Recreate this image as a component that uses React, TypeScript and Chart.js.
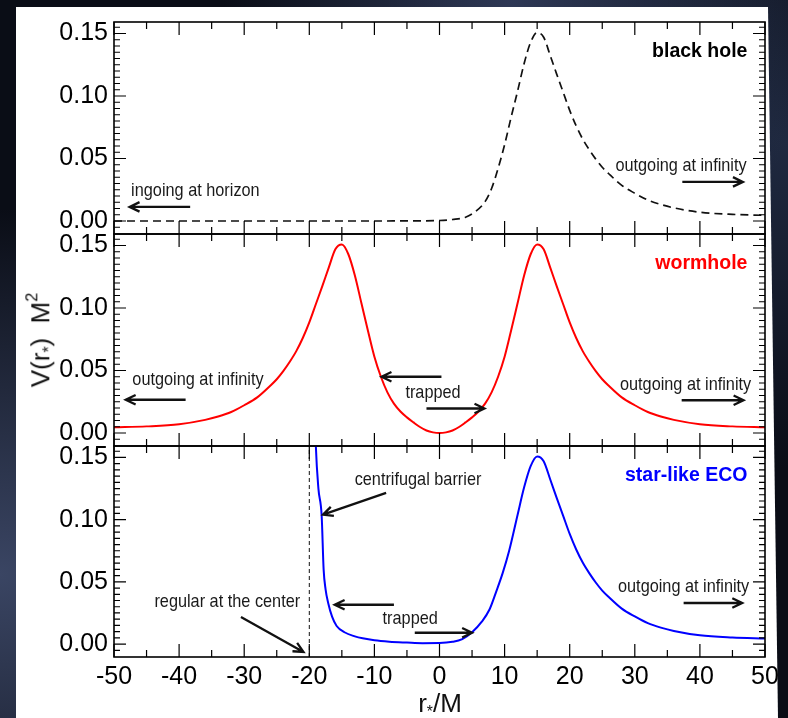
import React, { useEffect, useRef } from "react";
import { Chart, registerables } from "chart.js";
Chart.register(...registerables);

// ---------- data ----------
const X_TICKS = [-50, -40, -30, -20, -10, 0, 10, 20, 30, 40, 50];
const X_MINOR = [-45, -35, -25, -15, -5, 5, 15, 25, 35, 45];
const Y_TICKS = [0, 0.05, 0.1, 0.15];
const Y_MIN = -0.0104;
const Y_MAX = 0.1592;

const BH_X = [-50, -40, -30, -20, -10, -5, 0, 2, 4, 5.5, 7, 8, 9, 10, 11, 12, 13, 14, 15, 16, 17, 18, 19, 20, 21, 22, 23, 24, 25, 26, 28, 30, 32, 34, 36, 40, 45, 50];
const BH_V = [0, 0, 0, 0, 0, 0.0001, 0.0004, 0.0012, 0.003, 0.0075, 0.0155, 0.026, 0.042, 0.061, 0.083, 0.104, 0.126, 0.143, 0.1508, 0.147, 0.1325, 0.1175, 0.103, 0.0885, 0.076, 0.0655, 0.057, 0.0495, 0.043, 0.0378, 0.0285, 0.0222, 0.0168, 0.0132, 0.0105, 0.007, 0.0053, 0.0045];

const WH_X = [-50, -45, -40, -36, -34, -32, -30, -28, -26, -25, -24, -23, -22, -21, -20, -19, -18, -17, -16, -15, -14, -13, -12, -11, -10, -9, -8, -7, -6, -5, -4, -3, -2, -1, 0, 1, 2, 3, 4, 5, 6, 7, 8, 9, 10, 11, 12, 13, 14, 15, 16, 17, 18, 19, 20, 21, 22, 23, 24, 25, 26, 28, 30, 32, 34, 36, 40, 45, 50];
const WH_V = [0.0045, 0.0053, 0.007, 0.0105, 0.0132, 0.0168, 0.0222, 0.0285, 0.0378, 0.043, 0.0495, 0.057, 0.0655, 0.076, 0.0885, 0.103, 0.1175, 0.1325, 0.147, 0.1508, 0.143, 0.126, 0.104, 0.082, 0.061, 0.045, 0.0325, 0.0235, 0.0172, 0.0125, 0.0085, 0.0048, 0.002, 0.0005, 0, 0.0005, 0.002, 0.0048, 0.0085, 0.0125, 0.0172, 0.0235, 0.0325, 0.045, 0.061, 0.082, 0.104, 0.126, 0.143, 0.1508, 0.147, 0.1325, 0.1175, 0.103, 0.0885, 0.076, 0.0655, 0.057, 0.0495, 0.043, 0.0378, 0.0285, 0.0222, 0.0168, 0.0132, 0.0105, 0.007, 0.0053, 0.0045];

const ECO_X = [-19.4, -19.0, -18.6, -18.1, -17.8, -17.5, -17.1, -16.5, -15.8, -14.6, -13, -11.8, -10, -7.7, -5, -2.6, 0, 2, 3.5, 5, 6.5, 7.7, 8.7, 9.7, 10.7, 12, 13, 14, 15, 16, 17, 18, 19, 20, 21, 22, 23, 24, 25, 26, 28, 30, 32, 34, 36, 40, 45, 50];
const ECO_V = [0.24, 0.16, 0.125, 0.103, 0.06, 0.044, 0.033, 0.022, 0.0145, 0.0095, 0.0062, 0.0046, 0.003, 0.0019, 0.0012, 0.0007, 0.0008, 0.0018, 0.004, 0.0095, 0.018, 0.028, 0.042, 0.057, 0.075, 0.104, 0.126, 0.143, 0.1508, 0.147, 0.1325, 0.1175, 0.103, 0.0885, 0.076, 0.0655, 0.057, 0.0495, 0.043, 0.0378, 0.0285, 0.0222, 0.0168, 0.0132, 0.0105, 0.007, 0.0053, 0.0045];

const CENTER_X = [-20, -20];
const CENTER_V = [Y_MIN, Y_MAX];

// annotations (data coordinates)
const PANEL_TITLES = ["black hole", "wormhole", "star-like ECO"];
const TITLE_COLORS = ["#000000", "#ff0000", "#0000ff"];
const NOTES = [
  { panel: 0, text: "ingoing at horizon", x: -37.5, y: 0.024 },
  { panel: 0, text: "outgoing at infinity", x: 37.1, y: 0.0442 },
  { panel: 1, text: "outgoing at infinity", x: -37.1, y: 0.0425 },
  { panel: 1, text: "trapped", x: -1.0, y: 0.0317 },
  { panel: 1, text: "outgoing at infinity", x: 37.8, y: 0.0385 },
  { panel: 2, text: "centrifugal barrier", x: -3.3, y: 0.132 },
  { panel: 2, text: "regular at the center", x: -32.6, y: 0.0335 },
  { panel: 2, text: "trapped", x: -4.5, y: 0.0203 },
  { panel: 2, text: "outgoing at infinity", x: 37.5, y: 0.0457 },
];
const ARROWS = [
  { panel: 0, x1: -38.3, y1: 0.0113, x2: -47.6, y2: 0.0113 },
  { panel: 0, x1: 37.3, y1: 0.0313, x2: 46.6, y2: 0.0313 },
  { panel: 1, x1: -39.0, y1: 0.0266, x2: -48.2, y2: 0.0266 },
  { panel: 1, x1: 0.3, y1: 0.045, x2: -8.9, y2: 0.045 },
  { panel: 1, x1: -2.0, y1: 0.0196, x2: 6.9, y2: 0.0196 },
  { panel: 1, x1: 37.2, y1: 0.0262, x2: 46.7, y2: 0.0262 },
  { panel: 2, x1: -8.2, y1: 0.1215, x2: -17.9, y2: 0.104 },
  { panel: 2, x1: -30.5, y1: 0.0218, x2: -20.9, y2: -0.0063 },
  { panel: 2, x1: -7.0, y1: 0.0316, x2: -16.1, y2: 0.0316 },
  { panel: 2, x1: -3.8, y1: 0.0091, x2: 5.0, y2: 0.0091 },
  { panel: 2, x1: 37.5, y1: 0.033, x2: 46.5, y2: 0.033 },
];

const toPts = (xs: number[], ys: number[]) => xs.map((x, i) => ({ x, y: ys[i] }));

const FONT = '"Liberation Sans", Arial, Helvetica, sans-serif';

// layout of the three panels (canvas top, canvas height, padding bottom)
const PAD = 30;
const PANELS = [
  { top: 22 - PAD, height: 212 + 2 * PAD, padBottom: PAD, last: false },
  { top: 234 - PAD, height: 212 + 2 * PAD, padBottom: PAD, last: false },
  { top: 446 - PAD, height: 718 - 446 + PAD, padBottom: 0, last: true },
];

function drawArrow(ctx: CanvasRenderingContext2D, x1: number, y1: number, x2: number, y2: number) {
  const ang = Math.atan2(y2 - y1, x2 - x1);
  const L = 11;
  const a = 0.45;
  ctx.beginPath();
  ctx.moveTo(x1, y1);
  ctx.lineTo(x2, y2);
  ctx.moveTo(x2 - L * Math.cos(ang - a), y2 - L * Math.sin(ang - a));
  ctx.lineTo(x2, y2);
  ctx.lineTo(x2 - L * Math.cos(ang + a), y2 - L * Math.sin(ang + a));
  ctx.stroke();
}

function makeChart(canvas: HTMLCanvasElement, idx: number) {
  const cfg = PANELS[idx];
  const datasets: any[] = [];
  if (idx === 0) {
    datasets.push({ data: toPts(BH_X, BH_V), borderColor: "#111", borderWidth: 1.7, borderDash: [8, 5], pointRadius: 0, cubicInterpolationMode: "monotone", fill: false });
  } else if (idx === 1) {
    datasets.push({ data: toPts(WH_X, WH_V), borderColor: "#ff0000", borderWidth: 2, pointRadius: 0, cubicInterpolationMode: "monotone", fill: false });
  } else {
    datasets.push({ data: toPts(CENTER_X, CENTER_V), borderColor: "#111", borderWidth: 1, borderDash: [4, 3], pointRadius: 0, tension: 0, fill: false });
    datasets.push({ data: toPts(ECO_X, ECO_V), borderColor: "#0000ff", borderWidth: 2, pointRadius: 0, cubicInterpolationMode: "monotone", fill: false });
  }

  const deco = {
    id: "deco" + idx,
    afterDatasetsDraw(chart: any) {
      const { ctx, chartArea: ca, scales } = chart;
      const xs = scales.x;
      const ys = scales.y;
      ctx.save();
      ctx.strokeStyle = "#000";
      ctx.lineWidth = 1.2;
      // x ticks (top & bottom, inward)
      const xt = (v: number, len: number) => {
        const px = xs.getPixelForValue(v);
        ctx.beginPath();
        ctx.moveTo(px, ca.bottom);
        ctx.lineTo(px, ca.bottom - len);
        ctx.moveTo(px, ca.top);
        ctx.lineTo(px, ca.top + len);
        ctx.stroke();
      };
      X_TICKS.forEach((v) => xt(v, 13));
      X_MINOR.forEach((v) => xt(v, 7));
      // y ticks (left & right, inward)
      const yt = (v: number, len: number) => {
        const py = ys.getPixelForValue(v);
        ctx.beginPath();
        ctx.moveTo(ca.left, py);
        ctx.lineTo(ca.left + len, py);
        ctx.moveTo(ca.right, py);
        ctx.lineTo(ca.right - len, py);
        ctx.stroke();
      };
      for (let k = -1; k <= 31; k++) {
        const v = k * 0.005;
        if (v < Y_MIN || v > Y_MAX) continue;
        if (k % 10 === 0) yt(v, 12);
        else yt(v, 6);
      }
      // frame
      ctx.lineWidth = 1.6;
      ctx.strokeRect(ca.left, ca.top, ca.right - ca.left, ca.bottom - ca.top);

      // panel title
      ctx.fillStyle = TITLE_COLORS[idx];
      ctx.font = `bold 19.5px ${FONT}`;
      ctx.textAlign = "right";
      ctx.textBaseline = "middle";
      ctx.fillText(PANEL_TITLES[idx], xs.getPixelForValue(47.3), ys.getPixelForValue(0.1355));

      // notes
      ctx.fillStyle = "#1a1a1a";
      NOTES.filter((n) => n.panel === idx).forEach((n) => {
        ctx.save();
        ctx.translate(xs.getPixelForValue(n.x), ys.getPixelForValue(n.y));
        ctx.scale(0.88, 1);
        ctx.font = `18.5px ${FONT}`;
        ctx.textAlign = "center";
        ctx.textBaseline = "middle";
        ctx.fillText(n.text, 0, 0);
        ctx.restore();
      });
      // arrows
      ctx.strokeStyle = "#111";
      ctx.lineWidth = 2.3;
      ctx.lineCap = "butt";
      ctx.lineJoin = "miter";
      ARROWS.filter((a) => a.panel === idx).forEach((a) => {
        drawArrow(ctx, xs.getPixelForValue(a.x1), ys.getPixelForValue(a.y1), xs.getPixelForValue(a.x2), ys.getPixelForValue(a.y2));
      });
      ctx.restore();
    },
  };

  return new Chart(canvas, {
    type: "line",
    data: { datasets },
    options: {
      animation: false,
      responsive: false,
      maintainAspectRatio: false,
      events: [],
      parsing: false as any,
      layout: { padding: { left: 0, right: 23, top: PAD, bottom: cfg.padBottom } },
      plugins: { legend: { display: false }, tooltip: { enabled: false } },
      scales: {
        x: {
          type: "linear",
          min: -50,
          max: 50,
          display: cfg.last,
          grid: { display: false, drawTicks: false },
          border: { display: false },
          afterBuildTicks: (s: any) => {
            s.ticks = X_TICKS.map((v) => ({ value: v }));
          },
          afterFit: (s: any) => {
            s.height = cfg.last ? 61 : 0;
          },
          ticks: {
            font: { family: FONT, size: 25 },
            color: "#000",
            padding: 5,
            maxRotation: 0,
            autoSkip: false,
            callback: (v: any) => String(v),
          },
        },
        y: {
          type: "linear",
          min: Y_MIN,
          max: Y_MAX,
          grid: { display: false, drawTicks: false },
          border: { display: false },
          afterBuildTicks: (s: any) => {
            s.ticks = Y_TICKS.map((v) => ({ value: v }));
          },
          afterFit: (s: any) => {
            s.width = 114;
          },
          ticks: {
            font: { family: FONT, size: 25 },
            color: "#000",
            padding: 6,
            callback: (v: any) => Number(v).toFixed(2),
          },
        },
      },
    } as any,
    plugins: [deco],
  });
}

export default function App() {
  const r0 = useRef<HTMLCanvasElement>(null);
  const r1 = useRef<HTMLCanvasElement>(null);
  const r2 = useRef<HTMLCanvasElement>(null);
  useEffect(() => {
    const charts = [r0, r1, r2].map((r, i) => makeChart(r.current as HTMLCanvasElement, i));
    return () => charts.forEach((c) => c.destroy());
  }, []);
  const refs = [r0, r1, r2];
  return (
    <div
      style={{
        position: "fixed",
        left: 0,
        top: 0,
        width: 788,
        height: 718,
        overflow: "hidden",
        background:
          "radial-gradient(ellipse at 0% 80%, #3a4563 0%, rgba(58,69,99,0) 45%), radial-gradient(ellipse at 65% 0%, #2e3855 0%, rgba(46,56,85,0) 40%), radial-gradient(ellipse at 100% 20%, #1f2940 0%, rgba(31,41,64,0) 40%), #0a0d16",
      }}
    >
      <div
        style={{
          position: "absolute",
          left: 0,
          top: 0,
          width: 788,
          height: 718,
          background: "#ffffff",
          clipPath: "polygon(16px 7px, 768px 7px, 778px 718px, 16px 718px)",
        }}
      />
      {PANELS.map((p, i) => (
        <canvas
          key={i}
          ref={refs[i]}
          width={788}
          height={p.height}
          style={{ position: "absolute", left: 0, top: p.top, width: 788, height: p.height, display: "block" }}
        />
      ))}
      <div
        style={{
          position: "absolute",
          left: 40,
          top: 340,
          transform: "translate(-50%, -50%) rotate(-90deg)",
          font: `26px ${FONT}`,
          lineHeight: 1,
          whiteSpace: "nowrap",
          color: "#111",
        }}
      >
        V(r<span style={{ fontSize: "60%", verticalAlign: "-0.3em" }}>*</span>)&nbsp;&nbsp;M
        <span style={{ fontSize: "62%", verticalAlign: "0.75em" }}>2</span>
      </div>
      <div
        style={{
          position: "absolute",
          left: 440,
          top: 705,
          transform: "translate(-50%, -50%)",
          font: `26px ${FONT}`,
          lineHeight: 1,
          whiteSpace: "nowrap",
          color: "#111",
        }}
      >
        r<span style={{ fontSize: "60%", verticalAlign: "-0.3em" }}>*</span>/M
      </div>
    </div>
  );
}
